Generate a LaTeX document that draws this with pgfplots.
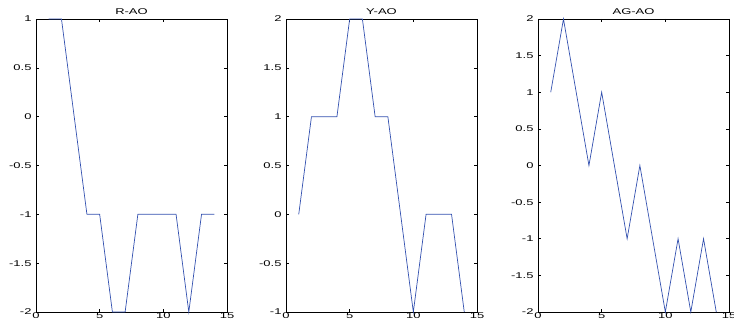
\documentclass[border=0pt]{standalone}
\usepackage{pgfplots}
\pgfplotsset{compat=1.18}
\usepackage{fontspec}
\setmainfont{Liberation Sans}[FakeStretch=1.55]
\definecolor{mblue}{RGB}{50,80,175}
\pgfplotsset{
  mystyle/.style={
    scale only axis, width=191bp, height=293bp, anchor=south west,
    xmin=0, xmax=15, xtick={0,5,10,15},
    clip=false,
    tick align=inside, major tick length=3bp,
    axis line style={black, line width=0.7bp},
    every tick/.style={black, line width=0.5bp},
    tick label style={font=\fontsize{8.4}{9}\selectfont},
    /pgf/number format/assume math mode=true,
    title style={font=\fontsize{8.4}{9}\selectfont, yshift=-5bp},
    xticklabel style={yshift=2.5bp},
    yticklabel style={xshift=-1bp},
  }
}
\begin{document}
\begin{tikzpicture}
\clip (0,0) rectangle (734bp,325bp);
\begin{axis}[mystyle, at={(36bp,13bp)}, ymin=-2, ymax=1, ytick={-2,-1.5,...,1}, title={R-AO}]
\addplot[mblue, line width=0.7bp] coordinates {(1,1)(2,1)(3,0)(4,-1)(5,-1)(6,-2)(7,-2)(8,-1)(9,-1)(10,-1)(11,-1)(12,-2)(13,-1)(14,-1)};
\end{axis}
\begin{axis}[mystyle, at={(286bp,13bp)}, ymin=-1, ymax=2, ytick={-1,-0.5,...,2}, title={Y-AO}]
\addplot[mblue, line width=0.7bp] coordinates {(1,0)(2,1)(3,1)(4,1)(5,2)(6,2)(7,1)(8,1)(9,0)(10,-1)(11,0)(12,0)(13,0)(14,-1)};
\end{axis}
\begin{axis}[mystyle, at={(538bp,13bp)}, ymin=-2, ymax=2, ytick={-2,-1.5,...,2}, title={AG-AO}]
\addplot[mblue, line width=0.7bp] coordinates {(1,1)(2,2)(3,1)(4,0)(5,1)(6,0)(7,-1)(8,0)(9,-1)(10,-2)(11,-1)(12,-2)(13,-1)(14,-2)};
\end{axis}
\end{tikzpicture}
\end{document}
